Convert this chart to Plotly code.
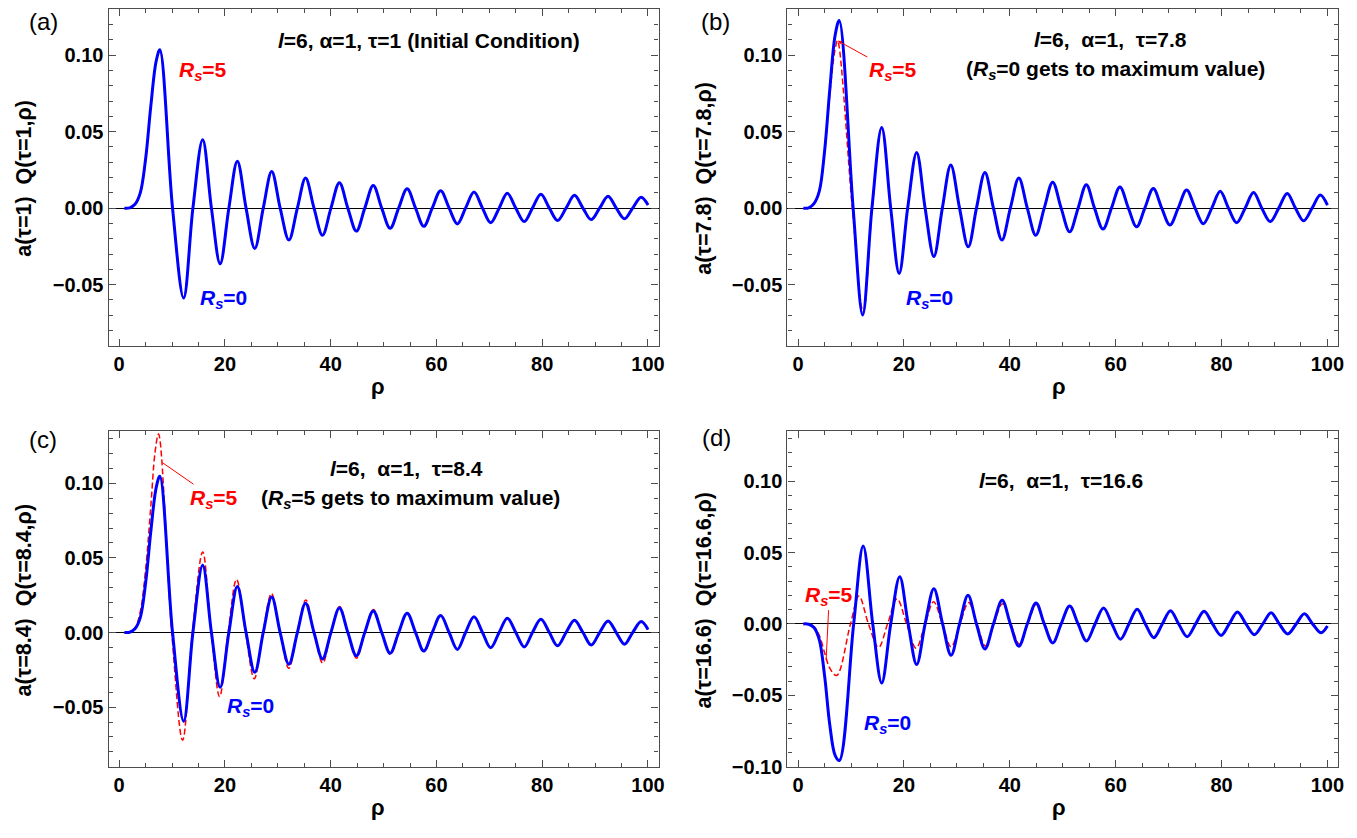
import plotly.graph_objects as go

# ---------------- data ----------------
# panel (a): tau = 1
a0_start_x = [1, 2, 3, 4, 5, 6, 7]
a0_start_y = [0, 0.0002, 0.0025, 0.010, 0.032, 0.067, 0.096]
a0_ext_x = [7.7, 12.2, 15.8, 19.1, 22.35, 25.65, 28.85, 32.1, 35.25, 38.45, 41.65, 44.85, 48.05, 51.25,
            54.45, 57.6, 60.8, 63.95, 67.1, 70.25, 73.4, 76.6, 79.75, 82.9, 86.1, 89.25, 92.45, 95.55, 98.7]
a0_ext_y = [0.1035, -0.0588, 0.0447, -0.0364, 0.0307, -0.0264, 0.0240, -0.0209, 0.0197, -0.0177, 0.0166,
            -0.0150, 0.0148, -0.0132, 0.0126, -0.0119, 0.0114, -0.0103, 0.0105, -0.0095, 0.0097, -0.0088,
            0.0091, -0.0081, 0.0084, -0.0075, 0.0078, -0.0070, 0.0071]
a0_zero_x = [10.1, 13.95, 17.45, 20.75, 24.0, 27.25, 30.45, 33.7, 36.85, 40.05, 43.25, 46.45, 49.65, 52.85,
             56.05, 59.2, 62.4, 65.5, 68.7, 71.85, 75.0, 78.15, 81.35, 84.5, 87.7, 90.85, 94.0, 97.1]
a0_end = (100, 0.002)

a5_start_x = [1, 2, 3, 4, 5, 6, 7]
a5_start_y = [0, 0.0002, 0.0025, 0.010, 0.032, 0.067, 0.096]
a5_ext_x = list(a0_ext_x)
a5_ext_y = [0.1035, -0.0588, 0.0447, -0.0364, 0.0307, -0.0264, 0.0240, -0.0209, 0.0197, -0.0177, 0.0166,
            -0.0150, 0.0148, -0.0132, 0.0126, -0.0119, 0.0114, -0.0103, 0.0105, -0.0095, 0.0097, -0.0088,
            0.0091, -0.0081, 0.0084, -0.0075, 0.0078, -0.0070, 0.0071]
a5_zero_x = list(a0_zero_x)
a5_end = (100, 0.002)

# panel (b): tau = 7.8
b0_start_x = [1, 2, 3, 4, 5, 6, 7]
b0_start_y = [0, 0.0002, 0.003, 0.011, 0.037, 0.078, 0.113]
b0_ext_x = [7.77, 12.2, 15.8, 19.1, 22.4, 25.65, 28.85, 32.15, 35.3, 38.5, 41.7, 44.9, 48.1, 51.3, 54.45,
            57.6, 60.8, 63.95, 67.1, 70.25, 73.4, 76.55, 79.75, 82.85, 86.05, 89.2, 92.4, 95.5, 98.65]
b0_ext_y = [0.1227, -0.0699, 0.0527, -0.0427, 0.0364, -0.0316, 0.0282, -0.0253, 0.0233, -0.0209, 0.0197,
            -0.0177, 0.0170, -0.0155, 0.0153, -0.0137, 0.0139, -0.0122, 0.0128, -0.0111, 0.0119, -0.0102,
            0.0110, -0.0095, 0.0102, -0.0088, 0.0096, -0.0083, 0.0086]
b0_zero_x = [10.4, 13.95, 17.5, 20.7, 24.0, 27.25, 30.5, 33.7, 36.9, 40.1, 43.3, 46.5, 49.7, 52.9, 56.0,
             59.2, 62.4, 65.5, 68.7, 71.8, 75.0, 78.15, 81.3, 84.45, 87.6, 90.8, 93.95, 97.1]
b0_end = (100, 0.002)

b5_start_x = [1, 2, 3, 4, 5, 6, 7]
b5_start_y = [0, 0.0002, 0.003, 0.011, 0.036, 0.075, 0.104]
b5_ext_x = [7.45, 12.3] + b0_ext_x[2:]
b5_ext_y = [0.1095, -0.068] + b0_ext_y[2:]
b5_zero_x = [10.25, 14.0] + b0_zero_x[2:]
b5_end = (100, 0.002)

# panel (c): tau = 8.4
c0_start_x = [1, 2, 3, 4, 5, 6, 7]
c0_start_y = [0, 0.0002, 0.0025, 0.010, 0.033, 0.068, 0.097]
c0_ext_x = list(a0_ext_x)
c0_ext_y = [0.1047, -0.0595, 0.0450, -0.0367, 0.0308, -0.0267, 0.0238, -0.0212, 0.0196, -0.0177, 0.0164,
            -0.0156, 0.0145, -0.0139, 0.0129, -0.0124, 0.0114, -0.0113, 0.0105, -0.0102, 0.0096, -0.0097,
            0.0089, -0.0089, 0.0082, -0.0084, 0.0078, -0.0078, 0.0073]
c0_zero_x = list(a0_zero_x)
c0_end = (100, 0.002)

c5_start_x = [1, 2, 3, 4, 5, 6, 6.8]
c5_start_y = [0, 0.0003, 0.003, 0.014, 0.042, 0.085, 0.121]
c5_ext_x = [7.45, 12.0, 15.8, 19.0, 22.2, 25.55, 28.8, 32.1, 35.3, 38.5, 41.7, 44.9, 48.1, 51.3, 54.5, 57.7,
            60.8, 63.95, 67.1, 70.25, 73.4, 76.6, 79.75, 82.9, 86.1, 89.25, 92.45, 95.55, 98.7]
c5_ext_y = [0.133, -0.0722, 0.0540, -0.0430, 0.0356, -0.0310, 0.0262, -0.0240, 0.0218, -0.0205, 0.0174,
            -0.0172, 0.0155, -0.0148, 0.0132, -0.0128, 0.0116, -0.0114, 0.0105, -0.0102, 0.0096, -0.0097,
            0.0089, -0.0089, 0.0082, -0.0084, 0.0078, -0.0078, 0.0073]
c5_zero_x = [9.95, 13.85, 17.4, 20.6, 23.9, 27.2, 30.4, 33.65, 36.85, 40.05, 43.25, 46.45, 49.65, 52.85,
             56.05, 59.2, 62.4, 65.5, 68.7, 71.85, 75.0, 78.15, 81.35, 84.5, 87.7, 90.85, 94.0, 97.1]
c5_end = (100, 0.002)

# panel (d): tau = 16.6
d0_start_x = [1, 2, 3, 4, 5, 6, 7]
d0_start_y = [0, -0.0002, -0.0025, -0.011, -0.036, -0.071, -0.092]
d0_ext_x = [7.8, 12.3, 15.8, 19.2, 22.4, 25.65, 28.9, 32.1, 35.3, 38.55, 41.7, 44.95, 48.1, 51.3, 54.5,
            57.7, 60.9, 64.05, 67.2, 70.35, 73.5, 76.7, 79.9, 83.0, 86.2, 89.35, 92.5, 95.65, 98.8]
d0_ext_y = [-0.0956, 0.0545, -0.0413, 0.0331, -0.0284, 0.0247, -0.0219, 0.0200, -0.0175, 0.0165, -0.0156,
            0.0147, -0.0133, 0.0126, -0.0119, 0.0112, -0.0107, 0.0103, -0.0096, 0.0093, -0.0089, 0.0089,
            -0.0080, 0.0084, -0.0075, 0.0079, -0.0070, 0.0072, -0.0062]
d0_zero_x = [10.5, 14.1, 17.5, 20.8, 24.0, 27.3, 30.5, 33.7, 36.9, 40.1, 43.3, 46.5, 49.7, 52.9, 56.1,
             59.3, 62.5, 65.6, 68.8, 71.9, 75.1, 78.3, 81.45, 84.6, 87.8, 90.9, 94.1, 97.2]
d0_end = (100, -0.0015)

d5_start_x = [1, 2, 3, 4, 5, 6]
d5_start_y = [0, -0.0002, -0.002, -0.008, -0.020, -0.031]
d5_ext_x = [7.3, 11.5, 15.2, 18.7, 22.3, 25.6, 28.9, 32.2, 35.4, 38.6, 41.8, 45.0, 48.2, 51.35, 54.5, 57.7,
            60.9, 64.05, 67.2, 70.35, 73.5, 76.7, 79.9, 83.0, 86.2, 89.35, 92.5, 95.65, 98.8]
d5_ext_y = [-0.0361, 0.0195, -0.0165, 0.0176, -0.0170, 0.0155, -0.0160, 0.0150, -0.0155, 0.0142, -0.0142,
            0.0137, -0.0130, 0.0124, -0.0119, 0.0112, -0.0107, 0.0103, -0.0096, 0.0093, -0.0089, 0.0089,
            -0.0080, 0.0084, -0.0075, 0.0079, -0.0070, 0.0072, -0.0062]
d5_zero_x = [9.9, 13.3, 16.9, 20.5, 24.0, 27.25, 30.6, 33.8, 37.0, 40.2, 43.4, 46.6, 49.75, 52.9, 56.1,
             59.3, 62.5, 65.6, 68.8, 71.9, 75.1, 78.3, 81.45, 84.6, 87.8, 90.9, 94.1, 97.2]
d5_end = (100, -0.0015)

x_range = [-2, 102]
y_ranges = {"a": [-0.09, 0.13], "b": [-0.09, 0.13], "c": [-0.09, 0.135], "d": [-0.10, 0.135]}
ylabels = {"a": "a(τ=1)\u00a0 Q(τ=1,ρ)", "b": "a(τ=7.8)\u00a0 Q(τ=7.8,ρ)",
           "c": "a(τ=8.4)\u00a0 Q(τ=8.4,ρ)", "d": "a(τ=16.6)\u00a0 Q(τ=16.6,ρ)"}


def assemble(sx, sy, ex, ey, zx, end):
    pts = list(zip(sx, sy)) + list(zip(ex, ey)) + [(z, 0.0) for z in zx] + [end]
    pts.sort(key=lambda p: p[0])
    return [p[0] for p in pts], [p[1] for p in pts]


curves = {
    "a": (assemble(a5_start_x, a5_start_y, a5_ext_x, a5_ext_y, a5_zero_x, a5_end),
          assemble(a0_start_x, a0_start_y, a0_ext_x, a0_ext_y, a0_zero_x, a0_end)),
    "b": (assemble(b5_start_x, b5_start_y, b5_ext_x, b5_ext_y, b5_zero_x, b5_end),
          assemble(b0_start_x, b0_start_y, b0_ext_x, b0_ext_y, b0_zero_x, b0_end)),
    "c": (assemble(c5_start_x, c5_start_y, c5_ext_x, c5_ext_y, c5_zero_x, c5_end),
          assemble(c0_start_x, c0_start_y, c0_ext_x, c0_ext_y, c0_zero_x, c0_end)),
    "d": (assemble(d5_start_x, d5_start_y, d5_ext_x, d5_ext_y, d5_zero_x, d5_end),
          assemble(d0_start_x, d0_start_y, d0_ext_x, d0_ext_y, d0_zero_x, d0_end)),
}

# ---------------- layout geometry ----------------
M = 8
W, H = 1357 - 2 * M, 838 - 2 * M
VS = 0.986  # observed vertical scale of the photographed page


def px(x):
    return (x - M) / W


def py(y):
    return 1 - ((y - M) / VS) / H


xdom = {"a": [px(109), px(661.5)], "b": [px(791), px(1344)],
        "c": [px(109), px(661.5)], "d": [px(791), px(1344)]}
ydom = {"a": [py(345), py(8.3)], "b": [py(345), py(8.3)],
        "c": [py(766.3), py(430.3)], "d": [py(766.3), py(430.3)]}
axid = {"a": "", "b": "2", "c": "3", "d": "4"}

FONT = "Liberation Sans, Arial, sans-serif"
FRAME = "#4d4d4d"
BLUE = "#0000FF"
RED = "#FF0000"
TXT = 21

fig = go.Figure()
layout = dict(width=W, height=H, margin=dict(l=0, r=0, t=0, b=0),
              paper_bgcolor="white", plot_bgcolor="white", showlegend=False)

for p in "abcd":
    k = axid[p]
    (rx, ry), (bx, by) = curves[p]
    fig.add_trace(go.Scatter(x=rx, y=ry, mode="lines", xaxis="x" + k, yaxis="y" + k,
                             line=dict(color=RED, width=1.5, dash="6px,3px", shape="spline", smoothing=1.0),
                             hoverinfo="skip"))
    fig.add_trace(go.Scatter(x=bx, y=by, mode="lines", xaxis="x" + k, yaxis="y" + k,
                             line=dict(color=BLUE, width=3, shape="spline", smoothing=1.0),
                             hoverinfo="skip"))
    common = dict(showline=True, linecolor=FRAME, linewidth=1.3, mirror="allticks", showgrid=False,
                  ticks="inside", ticklen=7, tickwidth=1, tickcolor=FRAME,
                  tickfont=dict(family=FONT, size=20, color="black", weight="bold"))
    layout["xaxis" + k] = dict(common, domain=xdom[p], range=x_range, anchor="y" + k,
                               tick0=0, dtick=20, zeroline=False,
                               minor=dict(ticks="inside", ticklen=4, dtick=5, tickcolor=FRAME, tickwidth=1))
    layout["yaxis" + k] = dict(common, domain=ydom[p], range=y_ranges[p], anchor="x" + k,
                               tick0=0, dtick=0.05, tickformat=".2f",
                               zeroline=True, zerolinecolor="black", zerolinewidth=1,
                               minor=dict(ticks="inside", ticklen=4, dtick=0.01, tickcolor=FRAME, tickwidth=1))

fig.update_layout(**layout)

ann = []


def txt(text, x, y, xref, yref, size=TXT, color="black", **kw):
    d = dict(text=text, x=x, y=y, xref=xref, yref=yref, showarrow=False,
             font=dict(family=FONT, size=size, color=color), xanchor="center", yanchor="middle")
    d.update(kw)
    ann.append(d)


RS5 = "<b><i>R</i><sub><i>s</i></sub>=5</b>"
RS0 = "<b><i>R</i><sub><i>s</i></sub>=0</b>"

# panel letters
for p, (lx, ly) in {"a": (44, 21), "b": (719, 21), "c": (43, 439), "d": (720, 437)}.items():
    txt("(" + p + ")", px(lx), py(ly), "paper", "paper", size=24)

# y-axis titles
for p, (lx, ly) in {"a": (24, 177), "b": (707, 177), "c": (24, 599), "d": (707, 599)}.items():
    txt("<b>" + ylabels[p] + "</b>", px(lx), py(ly), "paper", "paper", size=21.5, textangle=-90)

# x-axis titles (the lower ones sit on the bottom edge of the figure)
for p, (lx, ly) in {"a": (380, 386), "b": (1064, 386)}.items():
    txt("<b>ρ</b>", px(lx), py(ly), "paper", "paper", size=22)
for p, lx in {"c": 380, "d": 1064}.items():
    txt("<b>ρ</b>", px(lx), 0, "paper", "paper", size=22, yanchor="bottom", yshift=-3)

# panel (a)
txt("<b><i>l</i>=6, α=1, τ=1 (Initial Condition)</b>", 58.6, 0.1093, "x", "y")
txt(RS5, 15.9, 0.0896, "x", "y", color=RED)
txt(RS0, 19.8, -0.0593, "x", "y", color=BLUE)

# panel (b)
sp = "\u00a0\u00a0"
txt("<b><i>l</i>=6," + sp + "α=1," + sp + "τ=7.8</b>", 59.1, 0.110, "x2", "y2")
txt("<b>(<i>R</i><sub><i>s</i></sub>=0 gets to maximum value)</b>", 59.9, 0.0903, "x2", "y2")
ann.append(dict(text=RS5, x=7.5, y=0.1094, xref="x2", yref="y2", ax=17.9, ay=0.0896,
                axref="x2", ayref="y2", showarrow=True, arrowhead=2, arrowsize=0.8, arrowwidth=1,
                arrowcolor=RED, font=dict(family=FONT, size=TXT, color=RED)))
txt(RS0, 24.9, -0.0596, "x2", "y2", color=BLUE)

# panel (c)
txt("<b><i>l</i>=6," + sp + "α=1," + sp + "τ=8.4</b>", 54.3, 0.1098, "x3", "y3")
txt("<b>(<i>R</i><sub><i>s</i></sub>=5 gets to maximum value)</b>", 55.0, 0.0897, "x3", "y3")
ann.append(dict(text=RS5, x=8.2, y=0.1138, xref="x3", yref="y3", ax=18.0, ay=0.0897,
                axref="x3", ayref="y3", showarrow=True, arrowhead=0, arrowwidth=1,
                arrowcolor=RED, font=dict(family=FONT, size=TXT, color=RED)))
txt(RS0, 24.9, -0.0496, "x3", "y3", color=BLUE)

# panel (d)
txt("<b><i>l</i>=6," + sp + "α=1," + sp + "τ=16.6</b>", 49.7, 0.1002, "x4", "y4")
ann.append(dict(text=RS5, x=5.3, y=-0.0250, xref="x4", yref="y4", ax=5.9, ay=0.0198,
                axref="x4", ayref="y4", showarrow=True, arrowhead=0, arrowwidth=1,
                arrowcolor=RED, font=dict(family=FONT, size=TXT, color=RED)))
txt(RS0, 16.8, -0.0697, "x4", "y4", color=BLUE)

fig.update_layout(annotations=ann)
fig.write_html("out.html")
